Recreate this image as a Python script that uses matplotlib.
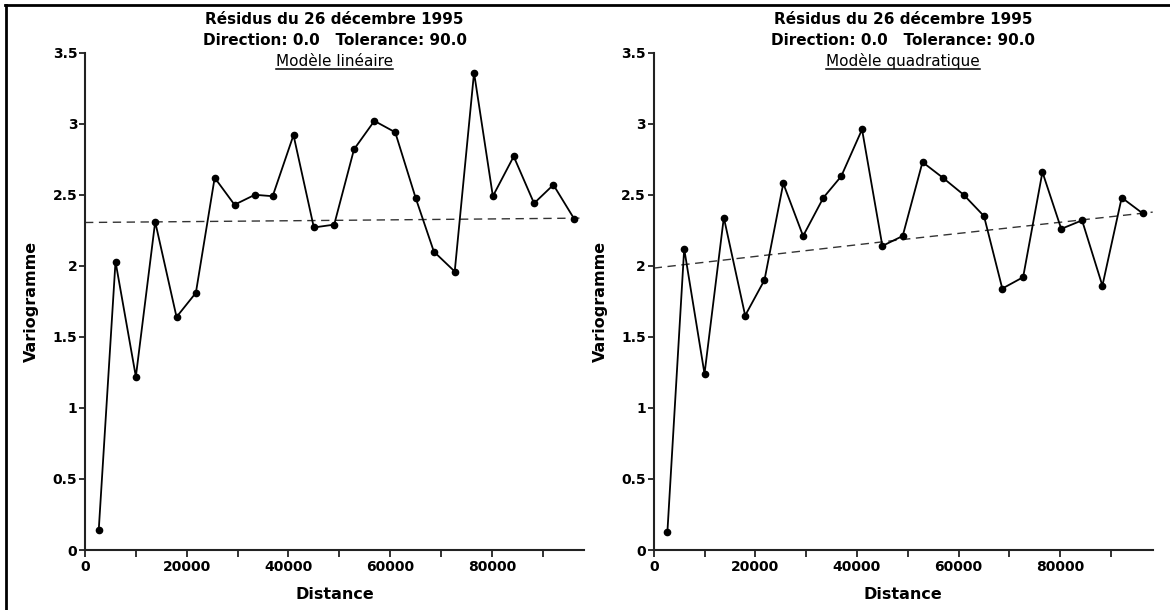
import matplotlib
matplotlib.use("Agg")
import matplotlib.pyplot as plt
from matplotlib.lines import Line2D
from matplotlib.ticker import MultipleLocator

# lag distances (same for both panels)
distance = [2700, 6000, 10000, 13800, 18000, 21800, 25500, 29400, 33400, 36900,
            41000, 45000, 49000, 52900, 56900, 61000, 65000, 68600, 72700, 76500,
            80200, 84300, 88300, 92100, 96200]

gamma_lin = [0.14, 2.03, 1.22, 2.31, 1.64, 1.81, 2.62, 2.43, 2.50, 2.49,
             2.92, 2.27, 2.29, 2.82, 3.02, 2.94, 2.48, 2.10, 1.96, 3.36,
             2.49, 2.77, 2.44, 2.57, 2.33]

gamma_quad = [0.13, 2.12, 1.24, 2.34, 1.65, 1.90, 2.58, 2.21, 2.48, 2.63,
              2.96, 2.14, 2.21, 2.73, 2.62, 2.50, 2.35, 1.84, 1.92, 2.66,
              2.26, 2.32, 1.86, 2.48, 2.37]

model_x = [0, 49000, 98200]
model_lin = [2.305, 2.32, 2.336]
model_quad = [1.984, 2.185, 2.378]

title1 = "Résidus du 26 décembre 1995"
title2 = "Direction: 0.0   Tolerance: 90.0"
subtitles = ["Modèle linéaire", "Modèle quadratique"]

W, H = 1170, 610
fig = plt.figure(figsize=(W / 100, H / 100), dpi=100)

boxes = [[85 / W, 60 / H, 499.4 / W, 497.3 / H],
         [653.7 / W, 60 / H, 499 / W, 497.3 / H]]

sub_texts = []
for box, gam, mod, sub in zip(boxes, [gamma_lin, gamma_quad],
                              [model_lin, model_quad], subtitles):
    ax = fig.add_axes(box)
    ax.plot(model_x, mod, color="#333333", lw=1.0, ls=(0, (6, 4)), zorder=2)
    ax.plot(distance, gam, color="black", lw=1.3, marker="o", ms=4.5, zorder=3,
            clip_on=False)
    ax.set_xlim(0, 98200)
    ax.set_ylim(0, 3.5)
    ax.xaxis.set_major_locator(MultipleLocator(20000))
    ax.xaxis.set_minor_locator(MultipleLocator(10000))
    ax.set_yticks([0, 0.5, 1, 1.5, 2, 2.5, 3, 3.5])
    ax.set_yticklabels(["0", "0.5", "1", "1.5", "2", "2.5", "3", "3.5"])
    for s in ["top", "right"]:
        ax.spines[s].set_visible(False)
    for s in ["left", "bottom"]:
        ax.spines[s].set_linewidth(1.5)
        ax.spines[s].set_color("#222222")
    ax.tick_params(axis="x", which="both", length=5, width=1.3, color="#222222",
                   pad=2.5, labelsize=10)
    ax.tick_params(axis="y", length=4.5, width=1.3, color="#222222", pad=1,
                   labelsize=10)
    for lab in ax.get_xticklabels() + ax.get_yticklabels():
        lab.set_fontweight("bold")
    ax.set_xlabel("Distance", fontsize=11.5, fontweight="bold", labelpad=9)
    ax.set_ylabel("Variogramme", fontsize=11.5, fontweight="bold", labelpad=10)

    cx = box[0] + box[2] / 2
    fig.text(cx, 1 - 24.5 / H, title1, ha="center", va="baseline",
             fontsize=11, fontweight="bold")
    fig.text(cx, 1 - 45 / H, title2, ha="center", va="baseline",
             fontsize=11, fontweight="bold")
    t = fig.text(cx, 1 - 65.7 / H, sub, ha="center", va="baseline",
                 fontsize=11, fontweight="normal")
    sub_texts.append(t)

# underline the model names
fig.canvas.draw()
renderer = fig.canvas.get_renderer()
for t in sub_texts:
    bb = t.get_window_extent(renderer)
    yline = 1 - 68.5 / H
    fig.add_artist(Line2D([bb.x0 / W, bb.x1 / W], [yline, yline],
                          transform=fig.transFigure, color="black", lw=1.1))

# frame lines at top and left of the picture
fig.add_artist(Line2D([5 / W, 1], [1 - 5 / H, 1 - 5 / H],
                      transform=fig.transFigure, color="black", lw=2))
fig.add_artist(Line2D([6 / W, 6 / W], [0, 1 - 5 / H],
                      transform=fig.transFigure, color="black", lw=2))

fig.savefig("out.png", dpi=100)
